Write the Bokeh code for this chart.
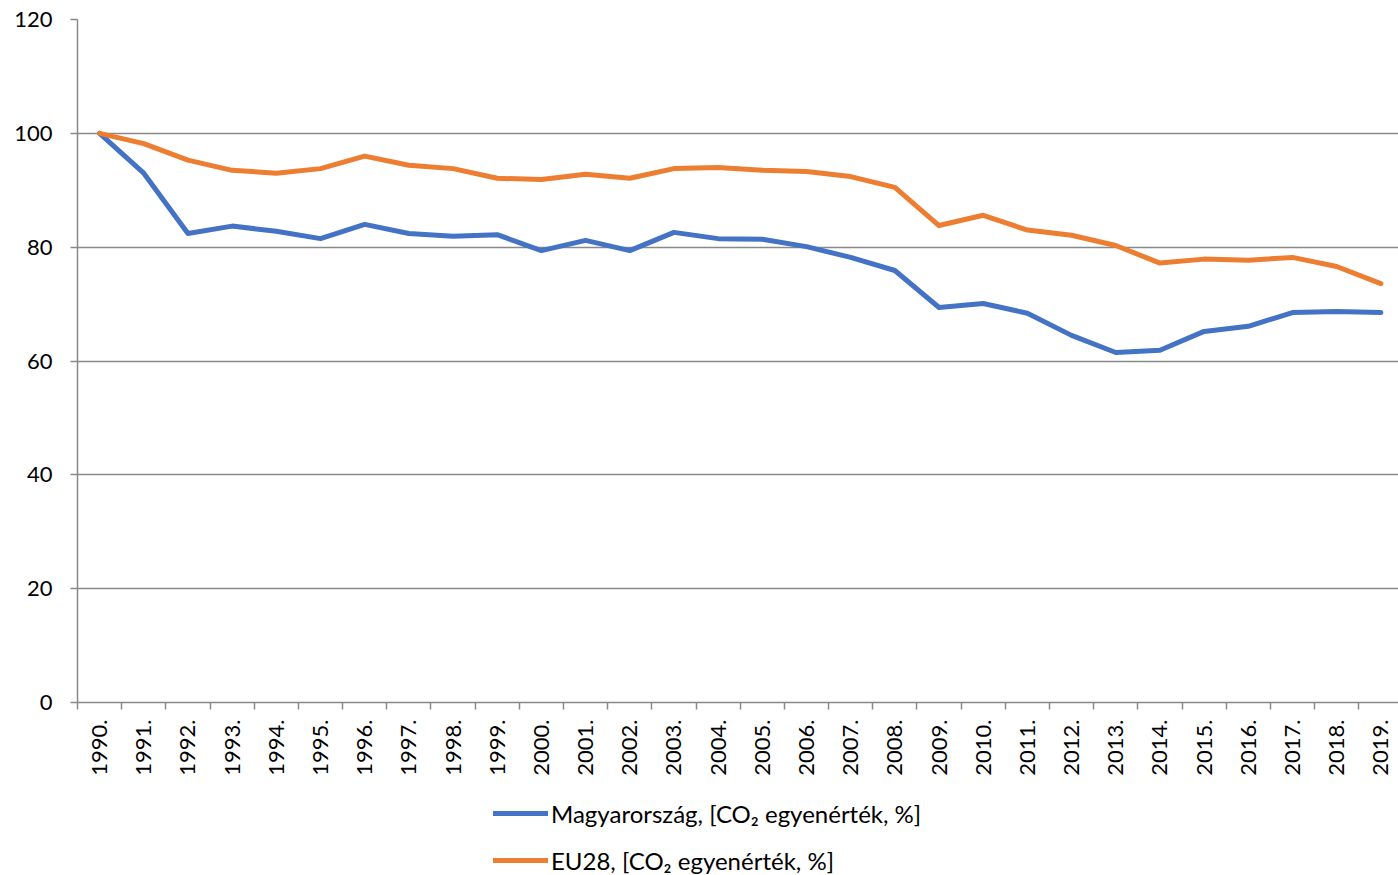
import math
from bokeh.plotting import figure
from bokeh.layouts import column
from bokeh.models import Range1d, FixedTicker, Legend, LegendItem
from bokeh.embed import file_html
from bokeh.resources import INLINE

years = ["1990.", "1991.", "1992.", "1993.", "1994.", "1995.", "1996.", "1997.",
         "1998.", "1999.", "2000.", "2001.", "2002.", "2003.", "2004.", "2005.",
         "2006.", "2007.", "2008.", "2009.", "2010.", "2011.", "2012.", "2013.",
         "2014.", "2015.", "2016.", "2017.", "2018.", "2019."]
hu = [100.0, 93.0, 82.4, 83.7, 82.8, 81.5, 84.0, 82.4, 81.9, 82.2, 79.4, 81.2,
      79.4, 82.6, 81.5, 81.4, 80.1, 78.2, 75.9, 69.4, 70.1, 68.4, 64.5, 61.5,
      61.9, 65.2, 66.1, 68.5, 68.7, 68.5]
eu = [100.0, 98.2, 95.3, 93.5, 93.0, 93.8, 96.0, 94.4, 93.8, 92.1, 91.9, 92.8,
      92.1, 93.8, 94.0, 93.5, 93.3, 92.4, 90.5, 83.8, 85.6, 83.0, 82.1, 80.3,
      77.2, 77.9, 77.7, 78.2, 76.6, 73.6]
y_ticks = [0, 20, 40, 60, 80, 100, 120]
series_names = ["Magyarország, [CO₂ egyenérték, %]", "EU28, [CO₂ egyenérték, %]"]
colors = ["#4472C4", "#ED7D31"]

xs = [i + 0.5 for i in range(len(years))]
FONT = "Lato"
GRAY = "#898989"

p = figure(width=1398, height=790, x_range=Range1d(0, 29.9), y_range=Range1d(0, 120),
           output_backend="svg", toolbar_location=None,
           min_border_left=77, min_border_top=19, min_border_right=0, min_border_bottom=88)
p.outline_line_color = None
p.background_fill_color = "white"
p.border_fill_color = "white"

p.line(xs, hu, line_color=colors[0], line_width=5, line_join="round", line_cap="round")
p.line(xs, eu, line_color=colors[1], line_width=5, line_join="round", line_cap="round")

# x axis
p.xaxis.ticker = FixedTicker(ticks=xs, minor_ticks=list(range(len(years) + 1)))
p.xaxis.major_label_overrides = {x: lab for x, lab in zip(xs, years)}
p.xaxis.major_label_orientation = math.pi / 2
p.xaxis.major_tick_out = 0
p.xaxis.major_tick_in = 0
p.xaxis.minor_tick_out = 7
p.xaxis.minor_tick_in = 0
p.xaxis.minor_tick_line_color = GRAY
p.xaxis.minor_tick_line_width = 1.5
p.xaxis.axis_line_color = GRAY
p.xaxis.axis_line_width = 1.5
p.xaxis.major_label_standoff = 10
p.xaxis.major_label_text_font = FONT
p.xaxis.major_label_text_font_size = "22px"
p.xaxis.major_label_text_color = "black"

# y axis
p.yaxis.ticker = FixedTicker(ticks=y_ticks, minor_ticks=[])
p.yaxis.major_tick_out = 7
p.yaxis.major_tick_in = 0
p.yaxis.major_tick_line_color = GRAY
p.yaxis.major_tick_line_width = 1.5
p.yaxis.axis_line_color = GRAY
p.yaxis.axis_line_width = 1.5
p.yaxis.major_label_standoff = 18
p.yaxis.major_label_text_font = FONT
p.yaxis.major_label_text_font_size = "22px"
p.yaxis.major_label_text_color = "black"

p.xgrid.grid_line_color = None
p.ygrid.ticker = FixedTicker(ticks=y_ticks, minor_ticks=[])
p.ygrid.grid_line_color = GRAY
p.ygrid.grid_line_width = 1.5

# legend in a strip below the chart
nan = float("nan")
lf = figure(width=1398, height=85, x_range=Range1d(0, 1), y_range=Range1d(0, 1),
            output_backend="svg", toolbar_location=None,
            x_axis_type=None, y_axis_type=None,
            min_border_left=0, min_border_top=0, min_border_right=0, min_border_bottom=0)
lf.outline_line_color = None
lf.xgrid.grid_line_color = None
lf.ygrid.grid_line_color = None
lr1 = lf.line([nan], [nan], line_color=colors[0], line_width=5, line_cap="round")
lr2 = lf.line([nan], [nan], line_color=colors[1], line_width=5, line_cap="round")

legend = Legend(items=[LegendItem(label=series_names[0], renderers=[lr1]),
                       LegendItem(label=series_names[1], renderers=[lr2])],
                location=(416, 0), orientation="vertical")
legend.border_line_color = None
legend.background_fill_alpha = 0
legend.padding = 0
legend.margin = 0
legend.glyph_width = 55
legend.glyph_height = 30
legend.label_height = 30
legend.label_standoff = 3
legend.spacing = 17
legend.label_text_font = FONT
legend.label_text_font_size = "24px"
legend.label_text_color = "black"
lf.add_layout(legend, "center")

layout = column(p, lf, spacing=0)
open("out.html", "w").write(file_html(layout, INLINE))
